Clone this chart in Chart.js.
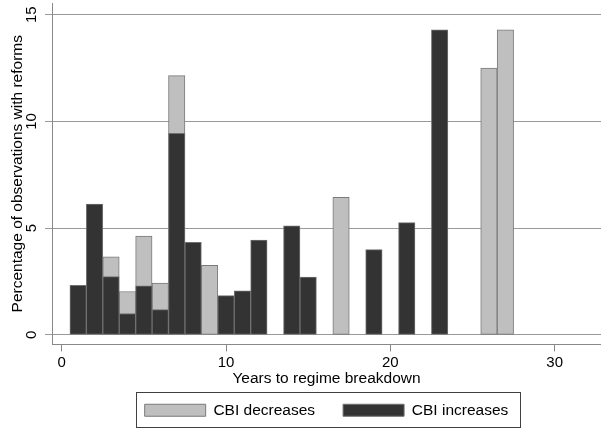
<!DOCTYPE html>
<html>
<head>
<meta charset="utf-8">
<script src="https://cdn.jsdelivr.net/npm/chart.js@4.4.1/dist/chart.umd.min.js"></script>
<style>
  html, body { margin: 0; padding: 0; background: #fff; }
  #wrap { width: 601px; height: 428px; }
</style>
</head>
<body>
<div id="wrap"><canvas id="cbiChart" width="601" height="428"></canvas></div>
<script>
// share of observations with a CBI reform, by years left before the regime breaks down
const decreaseYears = [3, 4, 5, 6, 7, 9, 17, 26, 27];
const decreaseValues = [3.66, 2.03, 4.63, 2.42, 12.15, 3.26, 6.44, 12.5, 14.29];
const increaseYears = [1, 2, 3, 4, 5, 6, 7, 8, 10, 11, 12, 14, 15, 19, 21, 23];
const increaseValues = [2.32, 6.13, 2.73, 1.0, 2.29, 1.18, 9.44, 4.33, 1.84, 2.06, 4.44, 5.11, 2.70, 3.99, 5.26, 14.29];
const xTicks = [0, 10, 20, 30];
const yTicks = [0, 5, 10, 15];
const seriesNames = ['CBI decreases', 'CBI increases'];

const toPoints = (xs, ys) => xs.map((x, i) => ({ x: x, y: ys[i] }));

Chart.defaults.font.family = "'Liberation Sans', Arial, Helvetica, sans-serif";
Chart.defaults.color = '#000';

// frame around the legend, stata style
const legendFrame = {
  id: 'legendFrame',
  afterDraw(chart) {
    const hb = chart.legend && chart.legend.legendHitBoxes;
    if (!hb || !hb.length) return;
    const first = hb[0];
    const last = hb[hb.length - 1];
    const left = Math.round(first.left - 9) + 0.5;
    const top = Math.round(first.top - 11) + 0.5;
    const right = Math.round(last.left + last.width + 12) + 0.5;
    const ctx = chart.ctx;
    ctx.save();
    ctx.strokeStyle = '#404040';
    ctx.lineWidth = 1;
    ctx.strokeRect(left, top, right - left, 35);
    ctx.restore();
  }
};

const ctx = document.getElementById('cbiChart').getContext('2d');

new Chart(ctx, {
  type: 'bar',
  data: {
    datasets: [
      {
        label: seriesNames[0],
        data: toPoints(decreaseYears, decreaseValues),
        backgroundColor: '#bfbfbf',
        borderColor: '#7a7a7a',
        borderWidth: 1,
        borderSkipped: false,
        order: 1
      },
      {
        label: seriesNames[1],
        data: toPoints(increaseYears, increaseValues),
        backgroundColor: '#333333',
        borderColor: '#707070',
        borderWidth: 1,
        borderSkipped: false,
        order: 0
      }
    ]
  },
  options: {
    responsive: false,
    animation: false,
    devicePixelRatio: 1,
    events: [],
    grouped: false,
    barPercentage: 1,
    categoryPercentage: 1,
    layout: { padding: { top: 3, left: 0, right: 0, bottom: 0 } },
    plugins: {
      tooltip: { enabled: false },
      legend: {
        display: true,
        position: 'bottom',
        fullSize: false,
        labels: {
          boxWidth: 61,
          boxHeight: 12,
          padding: 28,
          font: { size: 15.5 },
          sort: (a, b) => a.datasetIndex - b.datasetIndex
        }
      }
    },
    scales: {
      x: {
        type: 'linear',
        offset: false,
        min: -0.59,
        max: 32.82,
        afterBuildTicks: s => { s.ticks = xTicks.map(v => ({ value: v })); },
        afterFit: s => { s.height = 30; s.paddingLeft = 0; s.paddingRight = 0; },
        grid: { offset: false, drawOnChartArea: false, drawTicks: true, tickLength: 7, color: '#888' },
        border: { display: true, color: '#888', width: 1 },
        ticks: { font: { size: 15 }, padding: 2, maxRotation: 0 },
        title: {
          display: true,
          text: 'Years to regime breakdown',
          font: { size: 15.5 },
          padding: { top: 0, bottom: -14 }
        }
      },
      y: {
        type: 'linear',
        min: -0.454,
        max: 15.55,
        afterBuildTicks: s => { s.ticks = yTicks.map(v => ({ value: v })); },
        afterFit: s => { s.width = 52; s.paddingTop = 0; s.paddingBottom = 0; },
        grid: { drawOnChartArea: true, drawTicks: true, tickLength: 7, color: '#999' },
        border: { display: true, color: '#888', width: 1 },
        ticks: { font: { size: 15 }, padding: 5, minRotation: 90, maxRotation: 90, crossAlign: 'center' },
        title: {
          display: true,
          text: 'Percentage of observations with reforms',
          font: { size: 15.5 },
          padding: { top: 8, bottom: 0 }
        }
      }
    }
  },
  plugins: [legendFrame]
});
</script>
</body>
</html>
